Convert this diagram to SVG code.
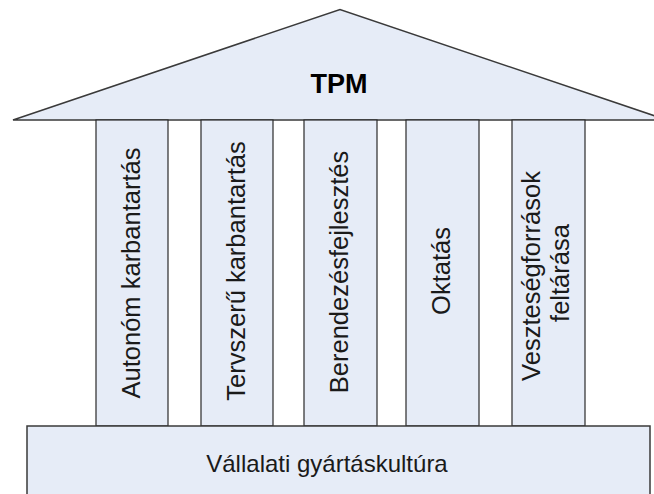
<svg xmlns="http://www.w3.org/2000/svg" width="654" height="494" viewBox="0 0 654 494">
<style>
.shape{fill:#E6ECF7;stroke:#3a3a3a;stroke-width:1.5}
.pillar{fill:#E6ECF7;stroke:#2a2a2a;stroke-width:1.2}
.lbl{font-family:"Liberation Sans",Arial,sans-serif;font-size:25.5px;fill:#1a1a1a;text-anchor:middle}
.title{font-family:"Liberation Sans",Arial,sans-serif;font-size:27px;font-weight:bold;fill:#000;text-anchor:middle}
</style>
<rect width="654" height="494" fill="#ffffff"/>
<g id="roof">
<polygon class="shape" points="13,120 340,9.5 667,120"/>
<text class="title" x="339" y="93">TPM</text>
</g>
<g id="pillar1">
<rect class="pillar" x="96" y="120" width="72" height="306"/>
<text class="lbl" transform="translate(139.5,273) rotate(-90)">Autonóm karbantartás</text>
</g>
<g id="pillar2">
<rect class="pillar" x="201" y="120" width="72" height="306"/>
<text class="lbl" transform="translate(244.5,271) rotate(-90)">Tervszerű karbantartás</text>
</g>
<g id="pillar3">
<rect class="pillar" x="304" y="120" width="73" height="306"/>
<text class="lbl" transform="translate(347.5,272) rotate(-90)">Berendezésfejlesztés</text>
</g>
<g id="pillar4">
<rect class="pillar" x="406" y="120" width="73" height="306"/>
<text class="lbl" transform="translate(449.5,271) rotate(-90)">Oktatás</text>
</g>
<g id="pillar5">
<rect class="pillar" x="512" y="120" width="73" height="306"/>
<text class="lbl" transform="translate(540,276) rotate(-90)">Veszteségforrások</text>
<text class="lbl" transform="translate(569,273) rotate(-90)">feltárása</text>
</g>
<g id="base">
<rect class="shape" x="27" y="426" width="623" height="80"/>
<text class="lbl" x="327" y="472" style="font-size:24px">Vállalati gyártáskultúra</text>
</g>
<g id="connectors"></g>
</svg>
